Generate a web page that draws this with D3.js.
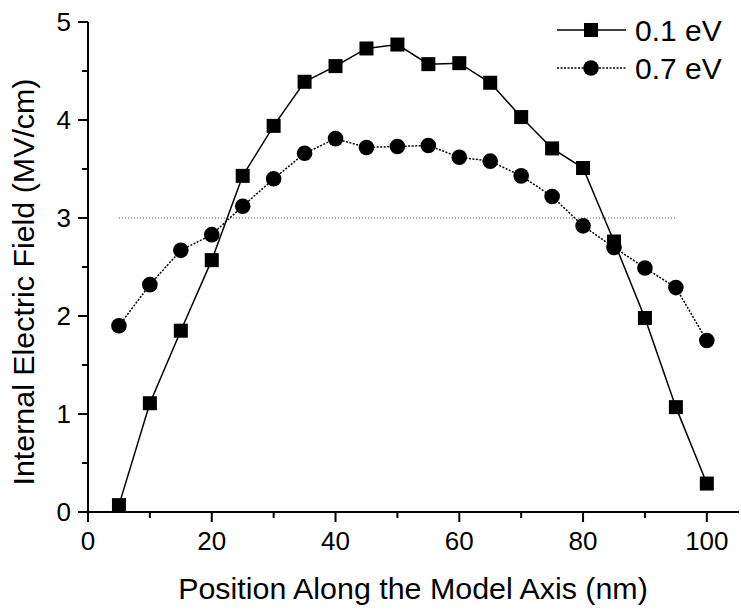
<!DOCTYPE html>
<html>
<head>
<meta charset="utf-8">
<script src="https://cdn.jsdelivr.net/npm/d3@7"></script>
<style>
  body { margin: 0; background: #fff; }
  text { font-family: "Liberation Sans", Arial, sans-serif; fill: #000; }
</style>
</head>
<body>
<div id="chart-area"></div>
<script>
// data
var positions = [5, 10, 15, 20, 25, 30, 35, 40, 45, 50, 55, 60, 65, 70, 75, 80, 85, 90, 95, 100];
var field01 = [0.07, 1.11, 1.85, 2.57, 3.43, 3.94, 4.39, 4.55, 4.73, 4.77, 4.57, 4.58, 4.38, 4.03, 3.71, 3.51, 2.76, 1.98, 1.07, 0.29];
var field07 = [1.90, 2.32, 2.67, 2.83, 3.12, 3.40, 3.66, 3.81, 3.72, 3.73, 3.74, 3.62, 3.58, 3.43, 3.22, 2.92, 2.70, 2.49, 2.29, 1.75];
var seriesNames = ["0.1 eV", "0.7 eV"];
var refLevel = 3, refStart = 5, refEnd = 95;
var xTicks = [0, 20, 40, 60, 80, 100];
var yTicks = [0, 1, 2, 3, 4, 5];

var width = 741, height = 614;
var margin = { left: 88, right: 2, top: 22, bottom: 102 };

var svg = d3.select("#chart-area")
    .append("svg")
    .attr("width", width)
    .attr("height", height);

var x = d3.scaleLinear().domain([0, 105.2]).range([margin.left, width - margin.right]);
var y = d3.scaleLinear().domain([0, 5]).range([height - margin.bottom, margin.top]);

// axes
function drawXAxis() {
    var g = svg.append("g").attr("transform", "translate(0," + y(0) + ")");
    g.append("line").attr("x1", x(0) - 10).attr("x2", x(105.2))
        .attr("stroke", "#000").attr("stroke-width", 2);
    d3.range(0, 101, 10).forEach(function(v) {
        var major = v % 20 === 0;
        g.append("line").attr("x1", x(v)).attr("x2", x(v))
            .attr("y1", 0).attr("y2", major ? 10 : 6)
            .attr("stroke", "#000").attr("stroke-width", 2);
    });
    g.selectAll(".xt").data(xTicks).enter().append("text")
        .attr("x", function(d) { return x(d); })
        .attr("y", 38)
        .attr("text-anchor", "middle")
        .attr("font-size", "26px")
        .text(function(d) { return d; });
}
function drawYAxis() {
    var g = svg.append("g").attr("transform", "translate(" + x(0) + ",0)");
    g.append("line").attr("y1", y(0) + 10).attr("y2", y(5))
        .attr("stroke", "#000").attr("stroke-width", 2);
    d3.range(0, 5.01, 0.5).forEach(function(v) {
        var major = Math.abs(v - Math.round(v)) < 1e-9;
        g.append("line").attr("x1", major ? -10 : -6).attr("x2", 0)
            .attr("y1", y(v)).attr("y2", y(v))
            .attr("stroke", "#000").attr("stroke-width", 2);
    });
    g.selectAll(".yt").data(yTicks).enter().append("text")
        .attr("x", -17)
        .attr("y", function(d) { return y(d); })
        .attr("dy", "0.35em")
        .attr("text-anchor", "end")
        .attr("font-size", "26px")
        .text(function(d) { return d; });
}
drawXAxis();
drawYAxis();

// labels
svg.append("text")
    .attr("x", 413).attr("y", 599)
    .attr("text-anchor", "middle")
    .attr("font-size", "30.4px")
    .text("Position Along the Model Axis (nm)");
svg.append("text")
    .attr("transform", "translate(34," + 282 + ") rotate(-90)")
    .attr("text-anchor", "middle")
    .attr("font-size", "30.4px")
    .text("Internal Electric Field (MV/cm)");

// reference line
svg.append("line")
    .attr("x1", x(refStart)).attr("x2", x(refEnd))
    .attr("y1", y(refLevel)).attr("y2", y(refLevel))
    .attr("stroke", "#555").attr("stroke-width", 1)
    .attr("stroke-dasharray", "1,2");

var d01 = positions.map(function(p, i) { return { x: p, y: field01[i] }; });
var d07 = positions.map(function(p, i) { return { x: p, y: field07[i] }; });

var line = d3.line()
    .x(function(d) { return x(d.x); })
    .y(function(d) { return y(d.y); });

svg.append("path").attr("d", line(d07))
    .attr("fill", "none").attr("stroke", "#000").attr("stroke-width", 1.5)
    .attr("stroke-dasharray", "2,1.5");
svg.append("path").attr("d", line(d01))
    .attr("fill", "none").attr("stroke", "#000").attr("stroke-width", 1.5);

svg.selectAll(".sq").data(d01).enter().append("rect")
    .attr("x", function(d) { return x(d.x) - 7; })
    .attr("y", function(d) { return y(d.y) - 7; })
    .attr("width", 14).attr("height", 14)
    .attr("fill", "#000");
svg.selectAll(".ci").data(d07).enter().append("circle")
    .attr("cx", function(d) { return x(d.x); })
    .attr("cy", function(d) { return y(d.y); })
    .attr("r", 7.8)
    .attr("fill", "#000");

// legend
var leg = svg.append("g");
[0, 1].forEach(function(i) {
    var ly = 30 + i * 38;
    leg.append("line").attr("x1", 557).attr("x2", 626).attr("y1", ly).attr("y2", ly)
        .attr("stroke", "#000").attr("stroke-width", 1.5)
        .attr("stroke-dasharray", i === 0 ? null : "2,1.5");
    if (i === 0) {
        leg.append("rect").attr("x", 584).attr("y", ly - 7).attr("width", 14).attr("height", 14).attr("fill", "#000");
    } else {
        leg.append("circle").attr("cx", 591).attr("cy", ly).attr("r", 7.8).attr("fill", "#000");
    }
    leg.append("text").attr("x", 635).attr("y", ly).attr("dy", "0.35em")
        .attr("font-size", "30px").text(seriesNames[i]);
});
</script>
</body>
</html>
